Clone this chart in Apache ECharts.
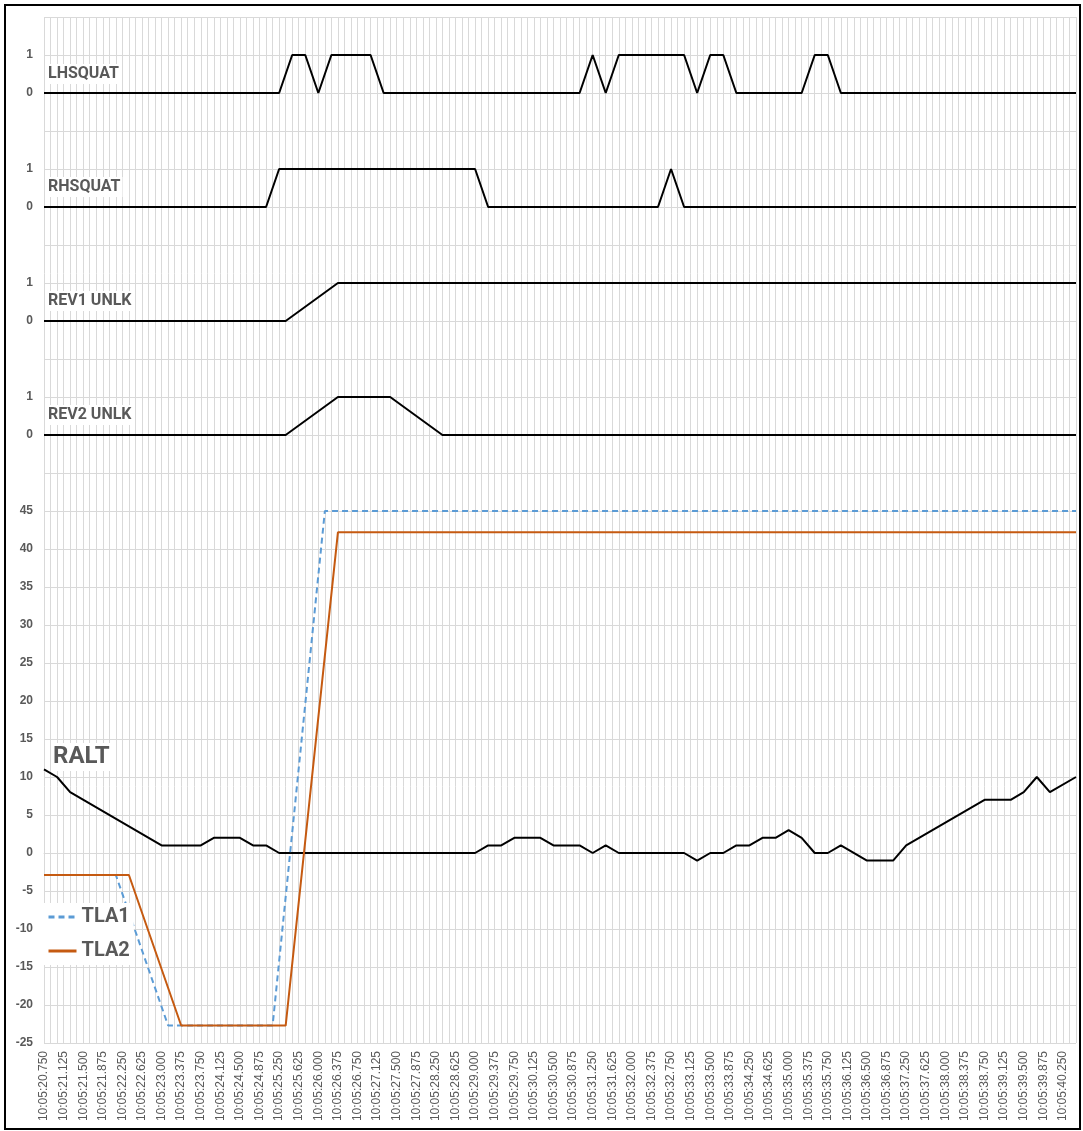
<!DOCTYPE html>
<html>
<head>
<meta charset="utf-8">
<script src="https://cdn.jsdelivr.net/npm/echarts@6/dist/echarts.min.js"></script>
<style>
html,body{margin:0;padding:0;background:#fff;}
#chart{width:1083px;height:1131px;}
</style>
</head>
<body>
<div id="chart"></div>
<script>
// ---- categories (time stamps, 0.125 s step) ----
const CATEGORIES = [];
for (let i = 0; i <= 158; i++) {
  CATEGORIES.push('10:05:' + (20.75 + i * 0.125).toFixed(3));
}

// ---- discrete signals: [time, value] break points ----
const LHSQUAT = [
  ["10:05:20.750",0],["10:05:25.250",0],["10:05:25.500",1],["10:05:25.750",1],["10:05:26.000",0],
  ["10:05:26.250",1],["10:05:27.000",1],["10:05:27.250",0],["10:05:31.000",0],["10:05:31.250",1],
  ["10:05:31.500",0],["10:05:31.750",1],["10:05:33.000",1],["10:05:33.250",0],["10:05:33.500",1],
  ["10:05:33.750",1],["10:05:34.000",0],["10:05:35.250",0],["10:05:35.500",1],["10:05:35.750",1],
  ["10:05:36.000",0],["10:05:40.500",0]
];
const RHSQUAT = [
  ["10:05:20.750",0],["10:05:25.000",0],["10:05:25.250",1],["10:05:29.000",1],["10:05:29.250",0],
  ["10:05:32.500",0],["10:05:32.750",1],["10:05:33.000",0],["10:05:40.500",0]
];
const REV1_UNLK = [
  ["10:05:20.750",0],["10:05:25.375",0],["10:05:26.375",1],["10:05:40.500",1]
];
const REV2_UNLK = [
  ["10:05:20.750",0],["10:05:25.375",0],["10:05:26.375",1],["10:05:27.375",1],["10:05:28.375",0],
  ["10:05:40.500",0]
];

// ---- analog signals ----
const RALT = [
  ["10:05:20.750",11],["10:05:21.000",10],["10:05:21.250",8],["10:05:23.000",1],["10:05:23.750",1],
  ["10:05:24.000",2],["10:05:24.500",2],["10:05:24.750",1],["10:05:25.000",1],["10:05:25.250",0],
  ["10:05:29.000",0],["10:05:29.250",1],["10:05:29.500",1],["10:05:29.750",2],["10:05:30.250",2],
  ["10:05:30.500",1],["10:05:31.000",1],["10:05:31.250",0],["10:05:31.500",1],["10:05:31.750",0],
  ["10:05:33.000",0],["10:05:33.250",-1],["10:05:33.500",0],["10:05:33.750",0],["10:05:34.000",1],
  ["10:05:34.250",1],["10:05:34.500",2],["10:05:34.750",2],["10:05:35.000",3],["10:05:35.250",2],
  ["10:05:35.500",0],["10:05:35.750",0],["10:05:36.000",1],["10:05:36.500",-1],["10:05:37.000",-1],
  ["10:05:37.250",1],["10:05:38.750",7],["10:05:39.250",7],["10:05:39.500",8],["10:05:39.750",10],
  ["10:05:40.000",8],["10:05:40.500",10]
];
const TLA1 = [
  ["10:05:20.750",-2.9],["10:05:22.125",-2.9],["10:05:23.125",-22.7],["10:05:25.125",-22.7],
  ["10:05:26.125",45],["10:05:40.500",45]
];
const TLA2 = [
  ["10:05:20.750",-2.9],["10:05:22.375",-2.9],["10:05:23.375",-22.7],["10:05:25.375",-22.7],
  ["10:05:26.375",42.2],["10:05:40.500",42.2]
];

// ---- y tick labels ----
const ANALOG_TICKS = [-25,-20,-15,-10,-5,0,5,10,15,20,25,30,35,40,45];
const DISCRETE_TICK_LABELS = ["0","1"];

// stacked discrete panels share the one value axis above the analog band
const PANELS = [
  {name:'LHSQUAT',   data:LHSQUAT,   base:100},
  {name:'RHSQUAT',   data:RHSQUAT,   base:85},
  {name:'REV1 UNLK', data:REV1_UNLK, base:70},
  {name:'REV2 UNLK', data:REV2_UNLK, base:55}
];
const STEP = 5;

const GRID_COLOR = '#d9d9d9';
const TEXT_COLOR = '#595959';
const NARROW = "'Liberation Sans Narrow', 'Roboto', sans-serif";

function yLabel(v) {
  if (ANALOG_TICKS.indexOf(v) >= 0) return String(v);
  for (const p of PANELS) {
    if (v === p.base) return DISCRETE_TICK_LABELS[0];
    if (v === p.base + STEP) return DISCRETE_TICK_LABELS[1];
  }
  return '';
}

const series = [];
PANELS.forEach(p => {
  series.push({
    name: p.name, type: 'line', symbol: 'none', silent: true,
    lineStyle: {color: '#000', width: 2},
    data: p.data.map(d => [d[0], p.base + STEP * d[1]])
  });
});
series.push({
  name: 'RALT', type: 'line', symbol: 'none', silent: true,
  lineStyle: {color: '#000', width: 2}, itemStyle: {color: '#000'},
  data: RALT
});
series.push({
  name: 'TLA1', type: 'line', symbol: 'none', silent: true,
  lineStyle: {color: '#5B9BD5', width: 2, type: [6, 4]}, itemStyle: {color: '#5B9BD5'},
  data: TLA1
});
series.push({
  name: 'TLA2', type: 'line', symbol: 'none', silent: true,
  lineStyle: {color: '#C55A11', width: 2}, itemStyle: {color: '#C55A11'},
  data: TLA2
});

function panelTitle(text, left, centerY, size) {
  return {
    text: text, left: left, top: centerY - size / 2 - 2,
    padding: [2, 2], backgroundColor: '#fff',
    textStyle: {fontFamily: NARROW, fontWeight: 'bold', fontSize: size, color: TEXT_COLOR, lineHeight: size}
  };
}

const chart = echarts.init(document.getElementById('chart'), null, {renderer: 'canvas'});
chart.setOption({
  animation: false,
  backgroundColor: '#fff',
  title: [
    panelTitle('LHSQUAT', 46, 74, 16),
    panelTitle('RHSQUAT', 46, 187, 16),
    panelTitle('REV1 UNLK', 46, 301, 16),
    panelTitle('REV2 UNLK', 46, 415, 16),
    panelTitle('RALT', 51, 757, 24)
  ],
  legend: {
    data: ['TLA1', 'TLA2'],
    orient: 'vertical', left: 43, top: 903,
    itemWidth: 28, itemHeight: 14, itemGap: 14,
    padding: [4, 4], backgroundColor: '#fff',
    itemStyle: {opacity: 0},
    lineStyle: {width: 3},
    textStyle: {fontFamily: NARROW, fontWeight: 'bold', fontSize: 20, color: TEXT_COLOR},
    selectedMode: false
  },
  grid: {left: 44, right: 7, top: 17, bottom: 88, containLabel: false},
  xAxis: {
    type: 'category', data: CATEGORIES, boundaryGap: false,
    axisLine: {show: true, lineStyle: {color: GRID_COLOR}},
    axisTick: {show: true, interval: 0, length: 5, lineStyle: {color: GRID_COLOR}},
    axisLabel: {interval: 2, rotate: 90, margin: 8, fontFamily: "'Liberation Sans', Arial, sans-serif", fontSize: 12, color: TEXT_COLOR},
    splitLine: {show: true, interval: 0, lineStyle: {color: GRID_COLOR, width: 1}}
  },
  yAxis: {
    type: 'value', min: -25, max: 110, interval: 5,
    axisLine: {show: false}, axisTick: {show: false},
    axisLabel: {formatter: yLabel, margin: 11, fontFamily: "'Liberation Sans', Arial, sans-serif", fontWeight: 'bold', fontSize: 12, color: TEXT_COLOR},
    splitLine: {show: true, lineStyle: {color: GRID_COLOR, width: 1}}
  },
  graphic: [{
    type: 'rect', silent: true, z: 100,
    shape: {x: 5, y: 5, width: 1075, height: 1124},
    style: {fill: 'none', stroke: '#000', lineWidth: 2}
  }],
  series: series
});
</script>
</body>
</html>
